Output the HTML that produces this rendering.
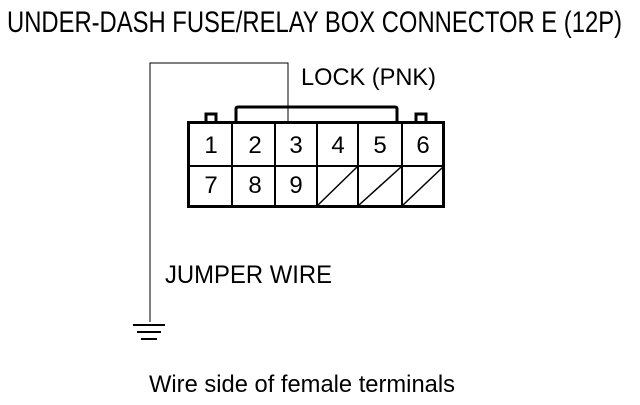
<!DOCTYPE html>
<html><head><style>html,body{margin:0;padding:0;background:#fff;}</style></head>
<body>
<svg width="640" height="400" xmlns="http://www.w3.org/2000/svg" font-family="Liberation Sans, Arial, sans-serif" fill="#000">
<text x="7" y="32" font-size="30" textLength="615" lengthAdjust="spacingAndGlyphs">UNDER-DASH FUSE/RELAY BOX CONNECTOR E (12P)</text>
<text x="301" y="85" font-size="24" textLength="135" lengthAdjust="spacingAndGlyphs">LOCK (PNK)</text>
<text x="165" y="283" font-size="25" textLength="167" lengthAdjust="spacingAndGlyphs">JUMPER WIRE</text>
<text x="149" y="392" font-size="24" textLength="306" lengthAdjust="spacingAndGlyphs">Wire side of female terminals</text>
<g fill="none" stroke="#000">
<polyline points="150,322 150,63 288,63 288,122" stroke-width="1"/>
<line x1="133" y1="325" x2="165" y2="325" stroke-width="2"/>
<line x1="137" y1="332" x2="161" y2="332" stroke-width="2"/>
<line x1="141" y1="339" x2="157" y2="339" stroke-width="2"/>
<g stroke-width="3">
<path d="M236,122 V109 Q236,107 238,107 H395 Q397,107 397,109 V122"/>
<path d="M206,122 V114 H216 V122"/>
<path d="M416,122 V114 H426 V122"/>
<rect x="188.5" y="122.5" width="255" height="84"/>
</g>
<g stroke-width="2">
<line x1="188" y1="166" x2="444" y2="166"/>
<line x1="232" y1="122" x2="232" y2="206"/>
<line x1="275" y1="122" x2="275" y2="206"/>
<line x1="317" y1="122" x2="317" y2="206"/>
<line x1="358" y1="122" x2="358" y2="206"/>
<line x1="402" y1="122" x2="402" y2="206"/>
</g>
<g stroke-width="1.5">
<line x1="318" y1="205" x2="357" y2="167"/>
<line x1="359" y1="205" x2="401" y2="167"/>
<line x1="403" y1="205" x2="443" y2="167"/>
</g>
</g>
<g font-size="24" text-anchor="middle">
<text x="211" y="153">1</text><text x="255" y="153">2</text><text x="296" y="153">3</text>
<text x="338" y="153">4</text><text x="380" y="153">5</text><text x="423" y="153">6</text>
<text x="211" y="193">7</text><text x="255" y="193">8</text><text x="296" y="193">9</text>
</g>
</svg>
</body></html>
